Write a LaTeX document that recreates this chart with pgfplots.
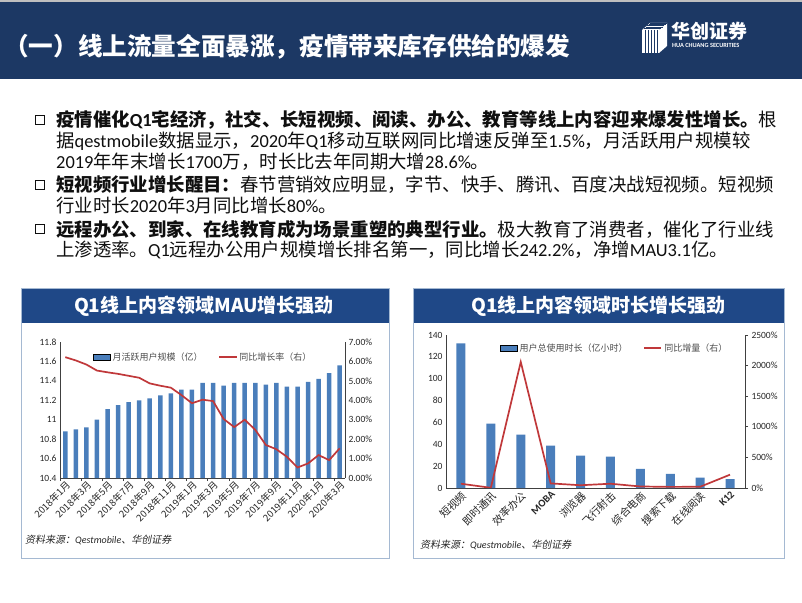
\documentclass[border=0pt]{standalone}
\usepackage{fontspec}
\setmainfont{Noto Sans CJK SC}
\newfontfamily\lat{Carlito}
\newfontfamily\cjkit{Noto Sans CJK SC}[FakeSlant=0.2]
\usepackage{pgfplots}
\pgfplotsset{compat=1.18}

\definecolor{navy}{RGB}{28,56,100}
\definecolor{band}{RGB}{31,72,135}
\definecolor{barblue}{RGB}{74,126,187}
\definecolor{linered}{RGB}{192,56,58}
\definecolor{panel}{RGB}{165,185,210}
\definecolor{txt}{RGB}{15,15,15}

\newcommand\fs[1]{\fontsize{#1}{#1}\selectfont}

% shared look of the four axes
\pgfplotsset{
  slide/.style={
    scale only axis,
    anchor=south west,
    axis line style={-, draw=black!75, line width=0.7pt},
    tick label style={text=black!85},
    /pgf/number format/assume math mode=true,
    yticklabel style={font=\lat\fs{9.5}},
    legend style={draw=none, fill=none, font=\fs{9}, text=black!70,
      /tikz/every even column/.append style={column sep=14pt}},
    legend cell align=left,
  },
}

\begin{document}
\begin{tikzpicture}[x=1pt,y=1pt]
\path[use as bounding box] (0,0) rectangle (802,602);

% header
\fill[black!25] (0,602) rectangle (802,600);
\fill[navy] (0,600) rectangle (802,523);
\node[anchor=west, inner sep=0, text=white, font=\bfseries\fs{24.6}] at (4,602-47)
  {（一）线上流量全面暴涨，疫情带来库存供给的爆发};
% logo
\begin{scope}[white]
  \fill (642,602-30) rectangle (659,602-53);
  \fill (642,602-30) -- (650,602-23) -- (667,602-23) -- (659,602-30) -- cycle;
  \fill (659,602-30) -- (667,602-23) -- (667,602-46) -- (659,602-53) -- cycle;
  \foreach \i in {0,...,4} {
    \draw[navy, line width=0.9pt] (645.5+3*\i,602-30) -- (645.5+3*\i,602-53);
    \draw[navy, line width=0.9pt] (644+1.6*\i,602-28.6+1.4*\i) -- (661+1.6*\i,602-28.6+1.4*\i);
  }
\end{scope}
\node[anchor=west, inner sep=0, text=white, font=\bfseries\fs{19}] at (671,602-31) {华创证券};
\node[anchor=west, inner sep=0, text=white, font=\lat\bfseries\fs{6.3}] at (672,602-45.5) {HUA CHUANG SECURITIES};

% bullets
\foreach \y in {120,185,229} {
  \draw[txt, line width=1.9pt] (35.5,602-\y+4.5) rectangle (44.5,602-\y-4.5);
}
\begin{scope}[every node/.style={anchor=west, inner sep=0, text=txt, font=\fs{18.4}}]
\node at (56,602-120) {{\bfseries 疫情催化{\lat Q1}宅经济，社交、长短视频、阅读、办公、教育等线上内容迎来爆发性增长。}根};
\node at (56,602-141) {据{\lat qestmobile}数据显示，{\lat 2020}年{\lat Q1}移动互联网同比增速反弹至{\lat 1.5\%}，月活跃用户规模较};
\node at (56,602-162) {{\lat 2019}年年末增长{\lat 1700}万，时长比去年同期大增{\lat 28.6\%}。};
\node at (56,602-185) {{\bfseries 短视频行业增长醒目：}春节营销效应明显，字节、快手、腾讯、百度决战短视频。短视频};
\node at (56,602-206) {行业时长{\lat 2020}年{\lat 3}月同比增长{\lat 80\%}。};
\node at (56,602-229) {{\bfseries 远程办公、到家、在线教育成为场景重塑的典型行业。}极大教育了消费者，催化了行业线};
\node at (56,602-250) {上渗透率。{\lat Q1}远程办公用户规模增长排名第一，同比增长{\lat 242.2\%}，净增{\lat MAU3.1}亿。};
\end{scope}

% panels
\draw[panel, line width=0.9pt] (21,602-288) rectangle (389,602-558);
\fill[band] (21.5,602-289) rectangle (388.5,602-323);
\node[text=white, font=\bfseries\fs{19}] at (204,602-306) {Q1线上内容领域MAU增长强劲};
\draw[panel, line width=0.9pt] (413,602-288) rectangle (784,602-558);
\fill[band] (413.5,602-289) rectangle (783.5,602-323);
\node[text=white, font=\bfseries\fs{19}] at (598.5,602-306) {Q1线上内容领域时长增长强劲};

% ---- left chart: MAU bars
\begin{axis}[slide, at={(60pt,124pt)}, width=285pt, height=136pt,
  xmin=-0.5, xmax=26.5, ymin=10.4, ymax=11.8,
  axis x line*=bottom, axis y line*=left,
  ytick={10.4,10.6,10.8,11,11.2,11.4,11.6,11.8},
  yticklabels={10.4,10.6,10.8,11,11.2,11.4,11.6,11.8},
  ytick style={draw=none},
  xtick={0,2,...,26},
  xticklabels={2018年1月,2018年3月,2018年5月,2018年7月,2018年9月,2018年11月,
    2019年1月,2019年3月,2019年5月,2019年7月,2019年9月,2019年11月,2020年1月,2020年3月},
  xticklabel style={rotate=45, anchor=north east, font=\fs{9.6}, inner sep=1.5pt},
  xtick style={draw=none},
  extra x ticks={-0.5,1.5,...,25.5},
  extra x tick labels={},
  extra x tick style={xtick style={draw=black!75, line width=0.6pt}, major tick length=3pt, tick align=outside},
]
\addplot[ybar, bar width=4.5pt, fill=barblue, draw=none] coordinates {
  (0,10.88) (1,10.90) (2,10.92) (3,11.00) (4,11.11) (5,11.15) (6,11.18)
  (7,11.20) (8,11.22) (9,11.25) (10,11.27) (11,11.31) (12,11.31) (13,11.38)
  (14,11.38) (15,11.35) (16,11.38) (17,11.38) (18,11.38) (19,11.36) (20,11.38)
  (21,11.34) (22,11.34) (23,11.39) (24,11.42) (25,11.48) (26,11.56)};
\end{axis}
% ---- left chart: growth rate, right axis
\begin{axis}[slide, at={(60pt,124pt)}, width=285pt, height=136pt,
  xmin=-0.5, xmax=26.5, ymin=0, ymax=7,
  axis x line=none, axis y line*=right,
  ytick={0,1,...,7},
  yticklabels={0.00\%,1.00\%,2.00\%,3.00\%,4.00\%,5.00\%,6.00\%,7.00\%},
  ytick style={draw=none},
  legend columns=2,
  legend style={at={(0.105,0.89)}, anchor=west},
]
\addlegendimage{area legend, fill=barblue, draw=none}
\addlegendentry{月活跃用户规模（亿）}
\addplot[linered, line width=1.7pt, no marks] coordinates {
  (0,6.22) (1,6.05) (2,5.84) (3,5.53) (4,5.44) (5,5.36) (6,5.26)
  (7,5.16) (8,4.87) (9,4.75) (10,4.65) (11,4.27) (12,3.85) (13,4.03)
  (14,3.96) (15,3.04) (16,2.62) (17,3.00) (18,2.48) (19,1.70) (20,1.48)
  (21,1.09) (22,0.54) (23,0.75) (24,1.18) (25,0.92) (26,1.53)};
\addlegendentry{同比增长率（右）}
\end{axis}
\node[anchor=west, inner sep=0, font=\fs{10}, text=black!85] at (25,602-540)
  {{\cjkit 资料来源：}{\lat\itshape Qestmobile}{\cjkit 、华创证券}};

% ---- right chart: usage hours
\begin{axis}[slide, at={(446pt,114pt)}, width=299pt, height=153pt,
  xmin=-0.5, xmax=9.5, ymin=0, ymax=140,
  axis x line*=bottom, axis y line*=left,
  ytick={0,20,...,140},
  ytick style={draw=none},
  xtick={0,...,9},
  xticklabels={短视频,即时通讯,效率办公,{\lat\bfseries MOBA},浏览器,飞行射击,综合电商,搜索下载,在线阅读,{\lat\bfseries K12}},
  xticklabel style={rotate=45, anchor=north east, font=\fs{10.5}, inner sep=1.5pt},
  xtick style={draw=none},
]
\addplot[ybar, bar width=9pt, fill=barblue, draw=none] coordinates {
  (0,132.4) (1,58.8) (2,48.8) (3,38.7) (4,29.6) (5,28.7) (6,17.4) (7,13.0) (8,9.4) (9,8.2)};
\end{axis}
% ---- right chart: year-on-year growth, right axis
\begin{axis}[slide, at={(446pt,114pt)}, width=299pt, height=153pt,
  xmin=-0.5, xmax=9.5, ymin=0, ymax=2500,
  axis x line=none, axis y line*=right,
  ytick={0,500,...,2500},
  yticklabels={0\%,500\%,1000\%,1500\%,2000\%,2500\%},
  ytick style={draw=black!75, line width=0.6pt},
  major tick length=3pt, tick align=outside,
  legend columns=2,
  legend style={at={(0.17,0.915)}, anchor=west},
]
\addlegendimage{area legend, fill=barblue, draw=none}
\addlegendentry{用户总使用时长（亿小时）}
\addplot[linered, line width=1.7pt, no marks] coordinates {
  (0,70) (1,3) (2,2060) (3,75) (4,45) (5,70) (6,25) (7,18) (8,20) (9,218)};
\addlegendentry{同比增量（右）}
\end{axis}
\node[anchor=west, inner sep=0, font=\fs{10}, text=black!85] at (420,602-545)
  {{\cjkit 资料来源：}{\lat\itshape Questmobile}{\cjkit 、华创证券}};

\end{tikzpicture}
\end{document}
